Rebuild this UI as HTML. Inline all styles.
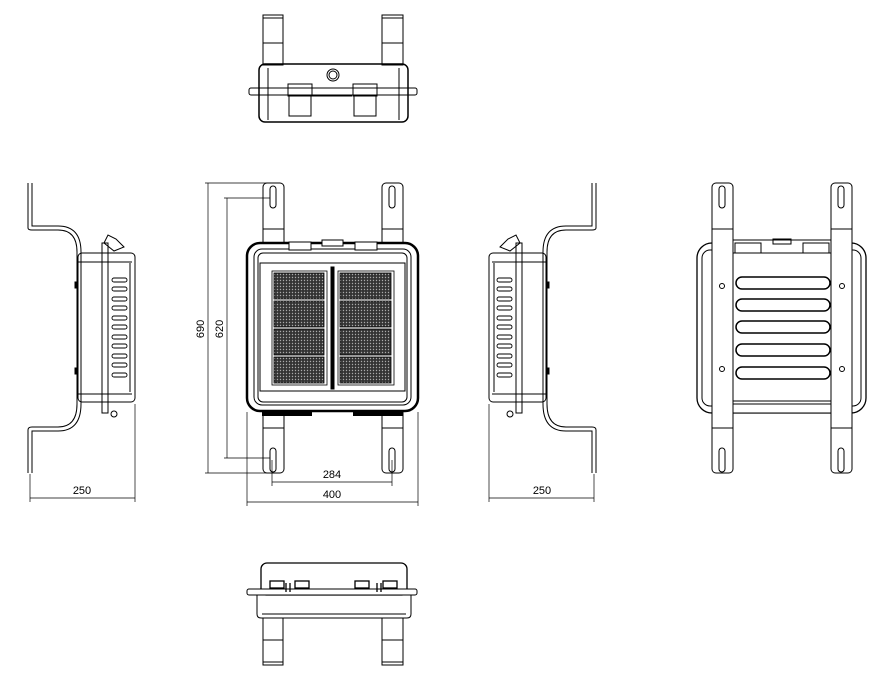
<!DOCTYPE html>
<html><head><meta charset="utf-8"><style>html,body{margin:0;padding:0;background:#fff}svg{display:block}text{font-family:"Liberation Sans",sans-serif;font-size:11px;fill:#000}</style></head><body>
<svg width="894" height="677" viewBox="0 0 894 677" xmlns="http://www.w3.org/2000/svg" fill="none" stroke="#000" stroke-width="1">
<defs>
<pattern id="dots" width="3" height="3" patternUnits="userSpaceOnUse"><rect width="3" height="3" fill="#333" stroke="none"/><circle cx="1.5" cy="1.5" r="0.7" fill="#aaa" stroke="none"/></pattern>
</defs>
<!-- TOP VIEW -->
<g>
<rect x="263" y="15" width="20" height="50"/><line x1="263" y1="18" x2="283" y2="18"/><line x1="263" y1="43" x2="283" y2="43"/>
<rect x="382" y="15" width="21" height="50"/><line x1="382" y1="18" x2="403" y2="18"/><line x1="382" y1="43" x2="403" y2="43"/>
<rect x="259" y="64" width="149" height="58" rx="6" stroke-width="1.5"/>
<rect x="249" y="88" width="168" height="7" rx="2"/>
<circle cx="333" cy="75" r="6"/><circle cx="333" cy="75" r="4"/>
<rect x="288" y="84" width="24" height="12"/><rect x="289" y="96" width="22" height="20"/>
<rect x="353" y="84" width="24" height="12"/><rect x="354" y="96" width="22" height="20"/>
<line x1="312" y1="96" x2="352" y2="96"/><line x1="268" y1="68" x2="268" y2="120"/><line x1="399" y1="68" x2="399" y2="120"/>
</g>
<!-- FRONT VIEW -->
<g>
<rect x="263" y="183" width="21" height="290" rx="4"/>
<rect x="382" y="183" width="21" height="290" rx="4"/>
<rect x="270" y="186" width="6" height="22" rx="3"/><rect x="270" y="448" width="6" height="24" rx="3"/>
<rect x="389" y="186" width="6" height="22" rx="3"/><rect x="389" y="448" width="6" height="24" rx="3"/>
<line x1="263" y1="229" x2="284" y2="229"/><line x1="382" y1="229" x2="403" y2="229"/>
<line x1="263" y1="428" x2="284" y2="428"/><line x1="382" y1="428" x2="403" y2="428"/>
<rect x="247" y="243" width="171" height="168" rx="13" fill="#fff" stroke-width="2.5"/>
<rect x="254" y="249" width="157" height="156" rx="8"/>
<rect x="258" y="253" width="149" height="149" rx="5"/>
<rect x="260" y="263" width="145" height="128"/>
<rect x="289" y="242" width="22" height="8" fill="#fff"/><rect x="355" y="242" width="22" height="8" fill="#fff"/><rect x="322" y="240" width="21" height="6" fill="#fff"/>
<g stroke-width="0.8">
<rect x="272" y="271" width="55" height="114" fill="#fff"/>
<rect x="274" y="273" width="50" height="26" fill="url(#dots)"/><rect x="274" y="301" width="50" height="26" fill="url(#dots)"/><rect x="274" y="329" width="50" height="26" fill="url(#dots)"/><rect x="274" y="357" width="50" height="26" fill="url(#dots)"/>
<rect x="338" y="271" width="56" height="114" fill="#fff"/>
<rect x="340" y="273" width="51" height="26" fill="url(#dots)"/><rect x="340" y="301" width="51" height="26" fill="url(#dots)"/><rect x="340" y="329" width="51" height="26" fill="url(#dots)"/><rect x="340" y="357" width="51" height="26" fill="url(#dots)"/>
</g>
<rect x="331" y="267" width="3" height="122" fill="#000"/>
<g fill="#000" stroke="none"><rect x="262" y="411" width="50" height="5"/><rect x="353" y="411" width="50" height="5"/></g>
</g>
<!-- front dims -->
<g stroke-width="0.7">
<line x1="205" y1="183" x2="268" y2="183"/><line x1="205" y1="473" x2="268" y2="473"/>
<line x1="208" y1="183" x2="208" y2="473"/>
<line x1="224" y1="198" x2="270" y2="198"/><line x1="224" y1="458" x2="270" y2="458"/>
<line x1="227" y1="198" x2="227" y2="458"/>
<line x1="272" y1="460" x2="272" y2="486"/><line x1="392" y1="460" x2="392" y2="486"/>
<line x1="272" y1="482" x2="392" y2="482"/>
<line x1="247" y1="412" x2="247" y2="506"/><line x1="418" y1="412" x2="418" y2="506"/>
<line x1="247" y1="502" x2="418" y2="502"/>
</g>
<text x="0" y="0" stroke="none" transform="translate(204,329) rotate(-90)" text-anchor="middle">690</text>
<text x="0" y="0" stroke="none" transform="translate(223,329) rotate(-90)" text-anchor="middle">620</text>
<text x="332" y="478" stroke="none" text-anchor="middle">284</text>
<text x="332" y="498" stroke="none" text-anchor="middle">400</text>
<!-- LEFT SIDE VIEW -->
<g id="side">
<path d="M28 183 V228 Q28 230 32 230 H58 Q77 230 77 252 V404 Q77 427 58 427 H32 Q28 427 28 430 V473 M32 183 V226 H58 Q81 226 81 252 V404 Q81 431 58 431 H32 V473"/>
<rect x="78" y="253" width="57" height="149" rx="4"/>
<line x1="78" y1="262" x2="132" y2="262"/><line x1="78" y1="394" x2="132" y2="394"/>
<rect x="102" y="243" width="6" height="170"/>
<path d="M104 243 l4 -8 l8 4 l8 8 l-10 4 z"/>
<circle cx="114" cy="414" r="3"/>
<rect x="75" y="282" width="3" height="6" fill="#000"/><rect x="75" y="368" width="3" height="6" fill="#000"/>
<line x1="130" y1="263" x2="130" y2="392"/>
<g stroke-width="0.9">
<rect x="112" y="278" width="15" height="4" rx="2"/><rect x="112" y="287" width="15" height="4" rx="2"/><rect x="112" y="297" width="15" height="4" rx="2"/><rect x="112" y="306" width="15" height="4" rx="2"/><rect x="112" y="316" width="15" height="4" rx="2"/><rect x="112" y="325" width="15" height="4" rx="2"/><rect x="112" y="335" width="15" height="4" rx="2"/><rect x="112" y="344" width="15" height="4" rx="2"/><rect x="112" y="354" width="15" height="4" rx="2"/><rect x="112" y="363" width="15" height="4" rx="2"/><rect x="112" y="373" width="15" height="4" rx="2"/>
</g>
</g>
<g stroke-width="0.7">
<line x1="30" y1="474" x2="30" y2="502"/><line x1="135" y1="404" x2="135" y2="502"/><line x1="30" y1="498" x2="135" y2="498"/>
</g>
<text x="82" y="494" stroke="none" text-anchor="middle">250</text>
<!-- RIGHT SIDE VIEW (mirrored) -->
<use href="#side" transform="translate(624,0) scale(-1,1)"/>
<g stroke-width="0.7">
<line x1="594" y1="474" x2="594" y2="502"/><line x1="489" y1="404" x2="489" y2="502"/><line x1="489" y1="498" x2="594" y2="498"/>
</g>
<text x="542" y="494" stroke="none" text-anchor="middle">250</text>
<!-- BACK VIEW -->
<g>
<rect x="697" y="243" width="169" height="170" rx="15" stroke-width="1.3"/>
<rect x="702" y="250" width="159" height="156" rx="8"/>
<rect x="733" y="240" width="98" height="173" fill="#fff"/>
<rect x="735" y="243" width="26" height="10"/><rect x="803" y="243" width="26" height="10"/><rect x="773" y="239" width="18" height="5"/>
<line x1="733" y1="253" x2="831" y2="253"/><line x1="733" y1="401" x2="831" y2="401"/><line x1="733" y1="404" x2="831" y2="404"/>
<rect x="712" y="183" width="21" height="290" rx="4" fill="#fff"/>
<rect x="831" y="183" width="21" height="290" rx="4" fill="#fff"/>
<rect x="719" y="186" width="6" height="22" rx="3"/><rect x="719" y="448" width="6" height="24" rx="3"/>
<rect x="838" y="186" width="6" height="22" rx="3"/><rect x="838" y="448" width="6" height="24" rx="3"/>
<line x1="712" y1="229" x2="733" y2="229"/><line x1="831" y1="229" x2="852" y2="229"/>
<line x1="712" y1="428" x2="733" y2="428"/><line x1="831" y1="428" x2="852" y2="428"/>
<g stroke-width="1.5">
<rect x="736" y="277" width="94" height="12" rx="6"/><rect x="736" y="299" width="94" height="12" rx="6"/><rect x="736" y="321" width="94" height="12" rx="6"/><rect x="736" y="344" width="94" height="12" rx="6"/><rect x="736" y="367" width="94" height="12" rx="6"/>
</g>
<circle cx="722" cy="286" r="2.5"/><circle cx="842" cy="286" r="2.5"/><circle cx="722" cy="369" r="2.5"/><circle cx="842" cy="369" r="2.5"/>
</g>
<!-- BOTTOM VIEW -->
<g>
<rect x="261" y="563" width="146" height="32" rx="6" stroke-width="1.3"/>
<rect x="247" y="589" width="170" height="6" rx="2" fill="#fff"/>
<path d="M257 595 V614 Q257 618 261 618 H407 Q411 618 411 614 V595"/>
<line x1="262" y1="614" x2="406" y2="614"/>
<g stroke-width="1.3"><rect x="270" y="581" width="14" height="7"/><rect x="295" y="581" width="14" height="7"/><rect x="355" y="581" width="14" height="7"/><rect x="383" y="581" width="14" height="7"/>
<line x1="286" y1="583" x2="286" y2="592"/><line x1="290" y1="583" x2="290" y2="592"/><line x1="377" y1="583" x2="377" y2="592"/><line x1="381" y1="583" x2="381" y2="592"/></g>
<rect x="263" y="618" width="20" height="47"/><line x1="263" y1="640" x2="283" y2="640"/><line x1="263" y1="662" x2="283" y2="662"/>
<rect x="382" y="618" width="21" height="47"/><line x1="382" y1="640" x2="403" y2="640"/><line x1="382" y1="662" x2="403" y2="662"/>
</g>
</svg>
</body></html>
